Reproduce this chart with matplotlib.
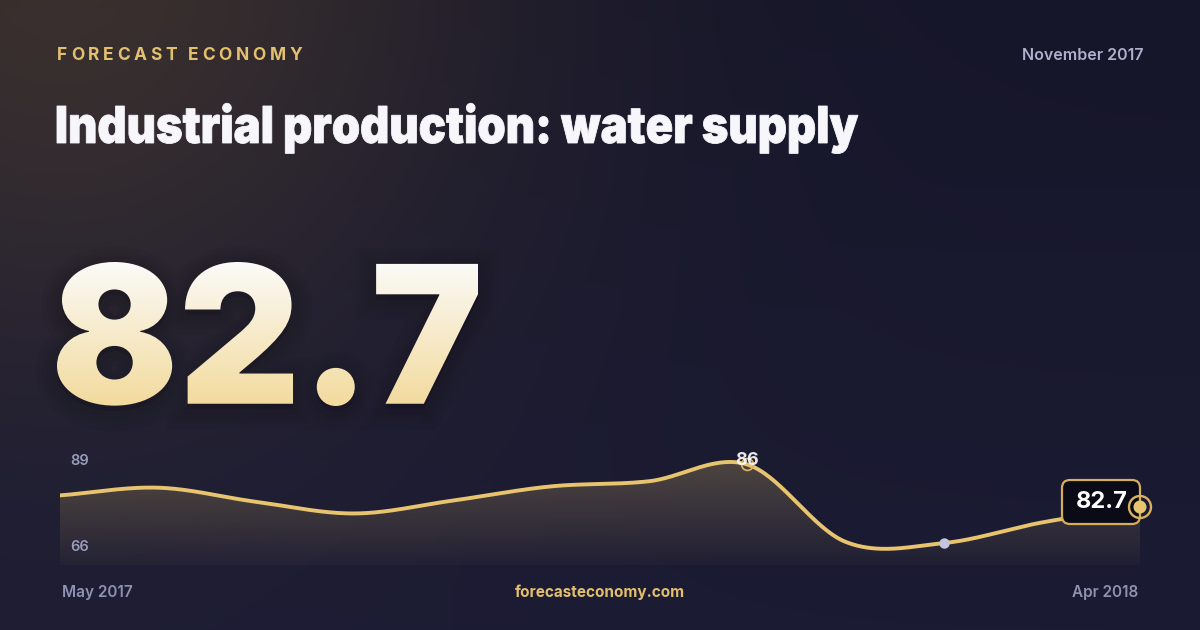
import numpy as np
import matplotlib
matplotlib.use('Agg')
import matplotlib.pyplot as plt
from matplotlib.textpath import TextPath
from matplotlib.patches import PathPatch, FancyBboxPatch, Polygon, Circle
from matplotlib.font_manager import FontProperties
from matplotlib.transforms import Affine2D

# ---------------- data ----------------
months = ['May 2017', 'Jun 2017', 'Jul 2017', 'Aug 2017', 'Sep 2017', 'Oct 2017',
          'Nov 2017', 'Dec 2017', 'Jan 2018', 'Feb 2018', 'Mar 2018', 'Apr 2018']
values = [83.6, 84.2, 83.1, 82.2, 83.2, 84.3, 84.7, 86.0, 80.0, 79.9, 81.5, 82.7]
range_labels = ['89', '66']
title = 'Industrial production: water supply'
brand = 'FORECAST ECONOMY'
period = 'November 2017'
site = 'forecasteconomy.com'
headline = '82.7'

# ---------------- style ----------------
W, H = 1200, 630
GOLD = '#e8c46f'
FAM = ['Inter', 'DejaVu Sans']

fig = plt.figure(figsize=(12, 6.3), dpi=100)

# background
bg = fig.add_axes([0, 0, 1, 1], zorder=0)
bg.set_xlim(0, W); bg.set_ylim(0, H); bg.axis('off')
yy, xx = np.mgrid[0:H, 0:W]
t = yy / H
base = np.stack([22 + 5 * t, 22 + 5 * t, 42 + 10 * t], -1)
d = np.hypot(xx - 60, yy + 60)
g = np.exp(-(d / 440) ** 2)
img = base + g[..., None] * np.array([36, 26, 4])
bg.imshow(np.clip(img / 255, 0, 1), extent=(0, W, 0, H), origin='upper', aspect='auto')


def catmull(x, y, n=60):
    x = np.asarray(x, float); y = np.asarray(y, float)
    m = np.empty_like(y)
    m[1:-1] = (y[2:] - y[:-2]) / 2
    m[0] = y[1] - y[0]; m[-1] = y[-1] - y[-2]
    xs, ys = [], []
    for i in range(len(x) - 1):
        s = np.linspace(0, 1, n, endpoint=(i == len(x) - 2))
        h00 = 2 * s**3 - 3 * s**2 + 1; h10 = s**3 - 2 * s**2 + s
        h01 = -2 * s**3 + 3 * s**2; h11 = s**3 - s**2
        ys.append(h00 * y[i] + h10 * m[i] + h01 * y[i + 1] + h11 * m[i + 1])
        xs.append(x[i] + s * (x[i + 1] - x[i]))
    return np.concatenate(xs), np.concatenate(ys)


# chart axes
L, R = 60, 1140
top_px, bot_px = 440, 565
ax = fig.add_axes([L / W, (H - bot_px) / H, (R - L) / W, (bot_px - top_px) / H], zorder=1)
ax.patch.set_alpha(0)
n = len(values)
xi = np.arange(n)
ylo, yhi = 78.2, 87.9
sx, sy = catmull(xi, values)

grad = np.zeros((256, 1, 4))
grad[..., :3] = np.array([232, 196, 112]) / 255
grad[:, 0, 3] = np.linspace(0.30, 0.03, 256)
im = ax.imshow(grad, extent=(0, n - 1, ylo, yhi), origin='upper', aspect='auto', zorder=1)
poly = Polygon(np.column_stack([np.r_[sx, sx[-1], sx[0]], np.r_[sy, ylo, ylo]]), closed=True,
               transform=ax.transData, facecolor='none', edgecolor='none')
ax.add_patch(poly)
im.set_clip_path(poly)
ax.plot(sx, sy, color=GOLD, lw=2.8, solid_capstyle='round', zorder=3)
ax.set_xlim(0, n - 1)
ax.set_ylim(ylo, yhi)
ax.axis('off')

ip = int(np.argmax(values))
imin = int(np.argmin(values))
ax.plot([ip], [values[ip]], 'o', ms=8.5, mfc='none', mec='#d9b060', mew=1.3, zorder=4, clip_on=False)
ax.annotate(f'{values[ip]:.0f}', (ip, values[ip]), xytext=(0, 3), textcoords='offset points',
            ha='center', va='center', fontsize=13, fontweight='bold', family=FAM,
            color='white', alpha=0.9, zorder=5, annotation_clip=False)
ax.plot([imin], [values[imin]], 'o', ms=7.5, color='#c3c6de', mec='none', zorder=4, clip_on=False)

# overlay
ov = fig.add_axes([0, 0, 1, 1], zorder=2)
ov.patch.set_alpha(0)
ov.set_xlim(0, W); ov.set_ylim(0, H); ov.axis('off')


def Y(py):
    return H - py


# label box and end marker at last point
fig.canvas.draw()
lx, ly = ax.transData.transform((n - 1, values[-1]))
bw, bh = 78, 44
box = FancyBboxPatch((lx - bw, ly + 5 - bh / 2), bw, bh, boxstyle='round,pad=0,rounding_size=8',
                     facecolor='#0b0b17', edgecolor='#d4ae5c', lw=1.6, zorder=5)
ov.add_patch(box)
ov.text(lx - bw / 2 + 1, ly + 5, headline, ha='center', va='center', fontsize=17, fontweight='bold',
        family=FAM, color='white', zorder=6)
ov.add_patch(Circle((lx, ly), 11, facecolor='none', edgecolor='#d9b060', lw=1.7, zorder=7))
ov.add_patch(Circle((lx, ly), 6.5, facecolor=GOLD, edgecolor='none', zorder=7))

# range labels
ov.text(70, Y(461), range_labels[0], ha='left', va='center', fontsize=10.5, fontweight='semibold',
        family=FAM, color='#9a9cbe')
ov.text(70, Y(547), range_labels[1], ha='left', va='center', fontsize=10.5, fontweight='semibold',
        family=FAM, color='#9a9cbe')

# bottom labels
ov.text(62, Y(597), months[0], ha='left', va='baseline', fontsize=11, fontweight='semibold',
        family=FAM, color='#8f91b3')
ov.text(1138, Y(597), months[-1], ha='right', va='baseline', fontsize=11, fontweight='semibold',
        family=FAM, color='#8f91b3')
ov.text(600, Y(597), site, ha='center', va='baseline', fontsize=11, fontweight='bold',
        family=FAM, color='#e2bf6c')

# period top right
ov.text(1143, Y(60), period, ha='right', va='baseline', fontsize=11.5, fontweight='semibold',
        family=FAM, color='#aeb0cc')

# brand letter-spaced
fp_brand = FontProperties(family=FAM, weight='bold', size=12.5)
r = fig.canvas.get_renderer()


def tw(s):
    if not s:
        return 0.0
    return r.get_text_width_height_descent(s, fp_brand, ismath=False)[0]


spacing = (245 - tw(brand)) / (len(brand) - 1)
for i, ch in enumerate(brand):
    if ch == ' ':
        continue
    x = 57 + tw(brand[:i + 1]) - tw(ch) + i * spacing
    ov.text(x, Y(59.5), ch, fontproperties=fp_brand, color='#e3c070', va='baseline', ha='left')

# title (condensed to match width)
fp_title = FontProperties(family=FAM, weight='black')
ttp = TextPath((0, 0), title, size=50, prop=fp_title)
te = ttp.get_extents()
cap = TextPath((0, 0), 'I', size=50, prop=fp_title).get_extents()
sy_t = 37.0 / cap.height
sx_t = 801.0 / te.width
tpath = Affine2D().translate(-te.x0, 0).scale(sx_t, sy_t).translate(57, Y(143)).transform_path(ttp)
ov.add_patch(PathPatch(tpath, facecolor='#f7f7fb', edgecolor='#f7f7fb', lw=0.6, zorder=3))

# big headline number with vertical gradient
fp_big = FontProperties(family=FAM, weight='black')
tp = TextPath((0, 0), headline, size=200, prop=fp_big)
e = tp.get_extents()
x0, x1, yb, yt = 57, 478, Y(406), Y(262)
tr = Affine2D().translate(-e.x0, -e.y0).scale((x1 - x0) / e.width, (yt - yb) / e.height).translate(x0, yb)
path = tr.transform_path(tp)
for k, lw in enumerate([30, 22, 15, 9]):
    ov.add_patch(PathPatch(Affine2D().translate(0, -5).transform_path(path), facecolor='#05050d',
                           edgecolor='#05050d', lw=lw, alpha=0.035, zorder=3))
clip = PathPatch(path, transform=ov.transData, facecolor='none', edgecolor='none')
ov.add_patch(clip)
tg = np.zeros((256, 1, 3))
top_c = np.array([251, 251, 249]) / 255
bot_c = np.array([243, 218, 156]) / 255
s = np.linspace(0, 1, 256)[:, None]
tg[:, 0, :] = top_c * (1 - s) + bot_c * s
bim = ov.imshow(tg, extent=(x0 - 2, x1 + 2, yb - 2, yt + 2), origin='upper', aspect='auto', zorder=4)
bim.set_clip_path(clip)
ov.set_xlim(0, W); ov.set_ylim(0, H)

fig.savefig('out.png', dpi=100)
